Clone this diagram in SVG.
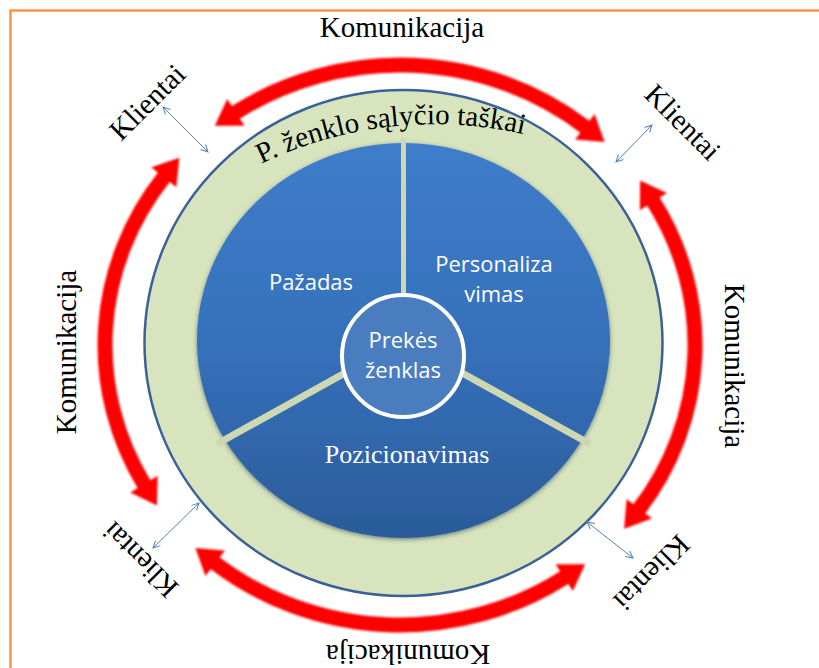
<svg xmlns="http://www.w3.org/2000/svg" width="819" height="668" viewBox="0 0 819 668">
<style>
.serif{font-family:"Liberation Serif","Times New Roman",serif;fill:#000;}
.lbl{font-size:29px;text-anchor:middle;}
.sans{font-family:"Open Sans","Noto Sans","Liberation Sans",sans-serif;fill:#fff;font-size:22px;text-anchor:middle;}
.red{fill:none;stroke:#ff0000;stroke-width:15;}
.blue{fill:none;stroke:#4F81BD;stroke-width:1;}
</style>
<defs>
<marker id="rh" markerUnits="userSpaceOnUse" orient="auto-start-reverse" viewBox="-20 -20 50 40" markerWidth="50" markerHeight="40" refX="0" refY="0">
<path d="M-1,-16 L24,0 L-1,16 Z" fill="#ff0000"/>
</marker>
<marker id="bh" markerUnits="userSpaceOnUse" orient="auto-start-reverse" viewBox="-10 -6 12 12" markerWidth="12" markerHeight="12" refX="0" refY="0">
<path d="M-7,-3.5 L0,0 L-7,3.5" fill="none" stroke="#4F81BD" stroke-width="1"/>
</marker>
<filter id="soft" x="-5%" y="-5%" width="110%" height="110%"><feGaussianBlur stdDeviation="0.9"/></filter>
<filter id="sh" x="-10%" y="-10%" width="120%" height="120%"><feDropShadow dx="0" dy="1.5" stdDeviation="2" flood-color="#1e3a5f" flood-opacity="0.6"/></filter>
<linearGradient id="seg" gradientUnits="userSpaceOnUse" x1="0" y1="143" x2="0" y2="540">
<stop offset="0" stop-color="#3F7CCA"/><stop offset="0.5" stop-color="#3671BB"/><stop offset="1" stop-color="#2B5B9A"/>
</linearGradient>
<path id="arcText" d="M240,175 A398,398 0 0 1 620,170"/>
</defs>
<rect x="0" y="0" width="819" height="668" fill="#fff"/>
<rect x="10.5" y="10.5" width="840" height="700" fill="none" stroke="#F79646" stroke-width="2.5"/>

<g id="ring">
<ellipse cx="403.5" cy="343" rx="259" ry="253" fill="#D7E4BD" stroke="#3A6198" stroke-width="2.5"/>
<text class="serif" font-size="29"><textPath href="#arcText" startOffset="24">P. ženklo sąlyčio taškai</textPath></text>
</g>

<g id="pie" filter="url(#sh)">
<g id="seg-personalizavimas"><path d="M403.5,340.5 L403.5,143 A206.5,197.5 0 0 1 582.3,439.3 Z" fill="url(#seg)"/></g>
<g id="seg-pozicionavimas"><path d="M403.5,340.5 L582.3,439.3 A206.5,197.5 0 0 1 224.7,439.3 Z" fill="url(#seg)"/></g>
<g id="seg-pazadas"><path d="M403.5,340.5 L224.7,439.3 A206.5,197.5 0 0 1 403.5,143 Z" fill="url(#seg)"/></g>
</g>
<g id="gaps" stroke="#CDD8B2">
<line x1="403.5" y1="340.5" x2="403.5" y2="138" stroke-width="5"/>
<line x1="403.5" y1="340.5" x2="590" y2="444" stroke-width="7"/>
<line x1="403.5" y1="340.5" x2="217" y2="444" stroke-width="7"/>
</g>
<g id="labels-pie">
<text class="sans" x="311" y="290">Pažadas</text>
<text class="sans" x="494" y="272">Personaliza</text>
<text class="sans" x="494" y="302">vimas</text>
<text x="407" y="463" font-family="Liberation Serif, Times New Roman, serif" font-size="26" fill="#fff" text-anchor="middle">Pozicionavimas</text>
</g>
<g id="center">
<circle cx="403" cy="356" r="61" fill="#4A7DC0" stroke="#fff" stroke-width="4"/>
<text class="sans" x="403" y="348">Prekės</text>
<text class="sans" x="403" y="378">ženklas</text>
</g>

<g id="connectors">
<g filter="url(#soft)">
<path class="red" d="M235.0,112.9 A295,280 0 0 1 585.6,127.4" marker-start="url(#rh)" marker-end="url(#rh)"/>
<path class="red" d="M652.9,200.8 A295,280 0 0 1 638.7,509.6" marker-start="url(#rh)" marker-end="url(#rh)"/>
<path class="red" d="M565.0,577.1 A295,280 0 0 1 214.4,562.6" marker-start="url(#rh)" marker-end="url(#rh)"/>
<path class="red" d="M144.5,485 A295,280 0 0 1 164.4,176.5" marker-start="url(#rh)" marker-end="url(#rh)"/>
</g>
<line class="blue" x1="163" y1="107" x2="208" y2="152" marker-start="url(#bh)" marker-end="url(#bh)"/>
<line class="blue" x1="652" y1="125" x2="616" y2="162" marker-start="url(#bh)" marker-end="url(#bh)"/>
<line class="blue" x1="199" y1="503" x2="153" y2="548" marker-start="url(#bh)" marker-end="url(#bh)"/>
<line class="blue" x1="587" y1="522" x2="633" y2="558" marker-start="url(#bh)" marker-end="url(#bh)"/>
</g>

<g id="outer-labels">
<text class="serif lbl" x="402" y="37">Komunikacija</text>
<text class="serif lbl" transform="translate(66,352) rotate(-90)" x="0" y="10">Komunikacija</text>
<text class="serif lbl" transform="translate(735,366) rotate(90)" x="0" y="10">Komunikacija</text>
<text class="serif lbl" transform="translate(408,645) rotate(180)" x="0" y="0">Komunikacija</text>
<text class="serif lbl" transform="translate(147,102) rotate(-45)" x="0" y="10">Klientai</text>
<text class="serif lbl" transform="translate(683,122) rotate(45)" x="0" y="10">Klientai</text>
<text class="serif lbl" transform="translate(140,560) rotate(-135)" x="0" y="10">Klientai</text>
<text class="serif lbl" transform="translate(652,573) rotate(135)" x="0" y="10">Klientai</text>
</g>
</svg>
